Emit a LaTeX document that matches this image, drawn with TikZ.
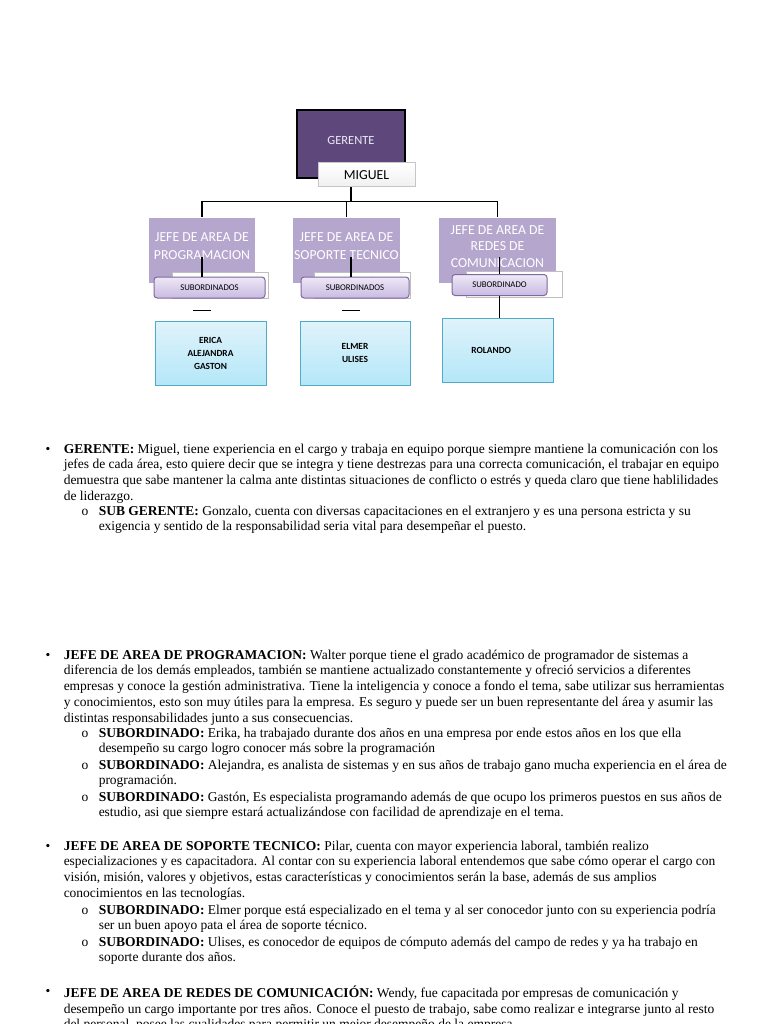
\documentclass[tikz,border=0pt]{standalone}
\usepackage{fontspec}
\setmainfont{Liberation Serif}
\newfontfamily\carlito{Carlito}
\definecolor{morado}{RGB}{93,71,123}
\definecolor{lila}{RGB}{181,166,206}
\definecolor{lilaclaro}{RGB}{238,232,246}
\definecolor{lilaoscuro}{RGB}{201,186,225}
\definecolor{bordelila}{RGB}{128,104,160}
\definecolor{celeste}{RGB}{224,243,251}
\definecolor{celesteoscuro}{RGB}{180,231,248}
\definecolor{bordeceleste}{RGB}{80,170,200}
\newcommand{\subir}{\rule[-7pt]{0pt}{7pt}}
\begin{document}
\begin{tikzpicture}[x=0.8pt,y=-0.8pt,line width=1.2pt,
	jefe/.style={fill=lila,text=white,minimum height=52pt,align=center,inner sep=1pt,font=\carlito\fontsize{11}{14.4}\selectfont},
	nombre/.style={draw=gray!50,line width=0.8pt,fill=white,minimum width=76.8pt,minimum height=20.8pt,font=\carlito\fontsize{10}{12}\selectfont},
	subord/.style={draw=bordelila,line width=0.8pt,rounded corners=2.5pt,top color=lilaclaro,bottom color=lilaoscuro,minimum height=16.8pt,font=\carlito\fontsize{7}{8}\selectfont},
	grupo/.style={draw=bordeceleste,line width=0.8pt,top color=celeste,bottom color=celesteoscuro,minimum height=51.2pt,align=center,font=\carlito\bfseries\fontsize{7.5}{10.4}\selectfont},
	texto/.style={anchor=north west,inner sep=0pt,align=left,font=\fontsize{10.8}{12.6}\selectfont},
	bala/.style={inner sep=0pt,font=\fontsize{10.8}{12.6}\selectfont}]
\useasboundingbox[fill=white] (0,0) rectangle (768,1024);
% organigrama
\node[draw=black,fill=morado,text=lilaclaro,minimum width=86.4pt,minimum height=54.4pt,font=\carlito\fontsize{10}{12}\selectfont,text depth=0pt] (gerente) at (351,144) {\raisebox{6pt}{GERENTE}};
\node[draw=gray!45,line width=0.8pt,top color=white,bottom color=gray!12,minimum width=77.6pt,minimum height=19.2pt,font=\carlito\fontsize{11}{13}\selectfont] (miguel) at (366.5,175) {MIGUEL};
\node[jefe,minimum width=84.8pt] (jefe1) at (202,250.5) {JEFE DE AREA DE\\PROGRAMACION\subir};
\node[jefe,minimum width=85.6pt] (jefe2) at (346.5,250.5) {JEFE DE AREA DE\\SOPORTE TECNICO\subir};
\node[jefe,minimum width=93.6pt,font=\carlito\fontsize{11}{13.2}\selectfont] (jefe3) at (497.5,250.5) {JEFE DE AREA DE\\REDES DE\\COMUNICACION\subir};
\draw (miguel.south -| gerente) -- ++(0,14) coordinate (rama);
\draw (jefe1.north) |- (rama) -| (jefe3.north);
\draw (jefe2.north) |- (rama);
% nombres tapados
\node[nombre] (walter) at (220,285) {\raisebox{5pt}{WALTER}};
\node[nombre] (pilar) at (362,285) {\raisebox{5pt}{PILAR}};
\node[nombre] (wendy) at (514,284) {\raisebox{5pt}{WENDY}};
\node[subord,minimum width=88.8pt] (sub1) at (209.5,287.5) {SUBORDINADOS};
\node[subord,minimum width=86.4pt] (sub2) at (355,287.5) {SUBORDINADOS};
\node[subord,minimum width=76pt] (sub3) at (499.5,285) {SUBORDINADO};
\draw (sub1.north -| jefe1.center) -- ++(0,-20);
\draw (sub2.north -| 351,0) -- ++(0,-20);
\draw (sub3.north) -- ++(0,-17);
\draw (sub1.south -| jefe1.center) ++(-9,12) -- ++(18,0);
\draw (sub2.south -| 351,0) ++(-9,12) -- ++(18,0);
\node[grupo,minimum width=88.8pt] (grupo1) at (210.5,353) {ERICA\\ALEJANDRA\\GASTON};
\node[grupo,minimum width=88pt] (grupo2) at (355,353) {ELMER\\ULISES};
\node[grupo,minimum width=88.8pt] (grupo3) at (497.5,350) {\hspace*{-10pt}ROLANDO};
\draw (sub3.south) -- (sub3.south |- grupo3.north);
% descripciones
\node[bala] (b1) at (48,450) {\textbullet};
\node[texto] (t1) at (63,443) {\textbf{GERENTE:} Miguel, tiene experiencia en el cargo y trabaja en equipo porque siempre mantiene la comunicación con los\\
jefes de cada área, esto quiere decir que se integra y tiene destrezas para una correcta comunicación, el trabajar en equipo\\
demuestra que sabe mantener la calma ante distintas situaciones de conflicto o estrés y queda claro que tiene hablilidades\\
de liderazgo.};
\node[bala] (b1a) at (85,512) {o};
\node[texto] (t1a) at (98,505) {\textbf{SUB GERENTE:} Gonzalo, cuenta con diversas capacitaciones en el extranjero y es una persona estricta y su\\
exigencia y sentido de la responsabilidad seria vital para desempeñar el puesto.};
\node[bala] (b2) at (48,656) {\textbullet};
\node[texto] (t2) at (63,649) {\textbf{JEFE DE AREA DE PROGRAMACION:} Walter porque tiene el grado académico de programador de sistemas a\\
diferencia de los demás empleados, también se mantiene actualizado constantemente y ofreció servicios a diferentes\\
empresas y conoce la gestión administrativa. Tiene la inteligencia y conoce a fondo el tema, sabe utilizar sus herramientas\\
y conocimientos, esto son muy útiles para la empresa. Es seguro y puede ser un buen representante del área y asumir las\\
distintas responsabilidades junto a sus consecuencias.};
\node[bala] (b2a) at (85,734) {o};
\node[texto] (t2a) at (98,727) {\textbf{SUBORDINADO:} Erika, ha trabajado durante dos años en una empresa por ende estos años en los que ella\\
desempeño su cargo logro conocer más sobre la programación};
\node[bala] (b2b) at (85,766) {o};
\node[texto] (t2b) at (98,759) {\textbf{SUBORDINADO:} Alejandra, es analista de sistemas y en sus años de trabajo gano mucha experiencia en el área de\\
programación.};
\node[bala] (b2c) at (85,798) {o};
\node[texto] (t2c) at (98,791) {\textbf{SUBORDINADO:} Gastón, Es especialista programando además de que ocupo los primeros puestos en sus años de\\
estudio, asi que siempre estará actualizándose con facilidad de aprendizaje en el tema.};
\node[bala] (b3) at (48,847) {\textbullet};
\node[texto] (t3) at (63,840) {\textbf{JEFE DE AREA DE SOPORTE TECNICO:} Pilar, cuenta con mayor experiencia laboral, también realizo\\
especializaciones y es capacitadora. Al contar con su experiencia laboral entendemos que sabe cómo operar el cargo con\\
visión, misión, valores y objetivos, estas características y conocimientos serán la base, además de sus amplios\\
conocimientos en las tecnologías.};
\node[bala] (b3a) at (85,911) {o};
\node[texto] (t3a) at (98,904) {\textbf{SUBORDINADO:} Elmer porque está especializado en el tema y al ser conocedor junto con su experiencia podría\\
ser un buen apoyo pata el área de soporte técnico.};
\node[bala] (b3b) at (85,943) {o};
\node[texto] (t3b) at (98,936) {\textbf{SUBORDINADO:} Ulises, es conocedor de equipos de cómputo además del campo de redes y ya ha trabajo en\\
soporte durante dos años.};
\node[bala] (b4) at (48,992) {\textbullet};
\node[texto] (t4) at (63,985) {\textbf{JEFE DE AREA DE REDES DE COMUNICACIÓN:} Wendy, fue capacitada por empresas de comunicación y\\
desempeño un cargo importante por tres años. Conoce el puesto de trabajo, sabe como realizar e integrarse junto al resto\\
del personal, posee las cualidades para permitir un mejor desempeño de la empresa.};
\end{tikzpicture}
\end{document}
